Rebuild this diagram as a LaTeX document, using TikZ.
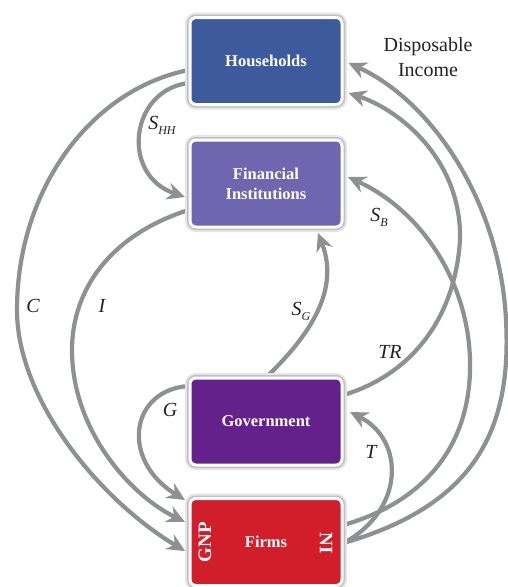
\documentclass[tikz,border=0pt]{standalone}
\usepackage{fontspec}
\setmainfont{Liberation Serif}
\usetikzlibrary{arrows.meta,calc,backgrounds}
\definecolor{hhc}{HTML}{3D5A9D}
\definecolor{fic}{HTML}{6E66AE}
\definecolor{govc}{HTML}{65218B}
\definecolor{firmc}{HTML}{D21E2B}
\definecolor{arrowgray}{HTML}{8D9194}
\definecolor{labc}{HTML}{222222}
\newcommand{\lsub}[1]{\raisebox{-5pt}{\fontsize{12}{12}\selectfont\itshape #1}}
\begin{document}
\begin{tikzpicture}[x=1pt,y=-1pt,
  box/.style={rounded corners=6pt, draw=white, line width=3pt, minimum width=152pt, minimum height=87pt,
    inner sep=0pt, text=white, font=\fontsize{16.5}{20}\selectfont\bfseries, align=center,
    preaction={draw=black!10, line width=10pt}, preaction={draw=black!25, line width=6pt}},
  flow/.style={draw=arrowgray, line width=4.2pt, -{Stealth[length=18pt,width=17pt,inset=6pt]}},
  lab/.style={font=\fontsize{20}{20}\selectfont\itshape, text=labc, inner sep=0pt},
  side/.style={text=white, font=\fontsize{19}{19}\selectfont\bfseries, inner sep=0pt}]
\useasboundingbox (0,0) rectangle (507,587);
% boxes
\node[box, fill=hhc] (hh) at (266,61) {Households};
\node[box, fill=fic] (fi) at (266,183.5) {Financial\\Institutions};
\node[box, fill=govc] (gov) at (266,421.5) {Government};
\node[box, fill=firmc] (firms) at (266,542) {Firms};
\node[side, rotate=90] (gnp) at (205,542) {GNP};
\node[side, rotate=-90] (ni) at (326,543) {NI};
% connectors
\begin{scope}[on background layer]
\fill[white] (0,0) rectangle (507,587);
% S_HH
\draw[flow] ($(hh.west)+(0,22)$) .. controls (130,90) and (120,175) .. ($(fi.west)+(-3.5,13.5)$);
% C
\draw[flow] ($(hh.west)+(0,9)$) .. controls (90,90) and (17,190) .. (17,310)
   .. controls (17,400) and (100,500) .. ($(firms.west)+(-3.5,9)$);
% I
\draw[flow] ($(fi.west)+(0,26.5)$) .. controls (110,235) and (72,290) .. (72,350)
   .. controls (72,430) and (130,495) .. ($(firms.west)+(-3.5,-20)$);
% G
\draw[flow] ($(gov.west)+(0,-35.5)$) .. controls (130,390) and (120,460) .. ($(firms.west)+(-3.5,-42)$);
% S_G
\draw[flow] ($(gov.north)+(1,0)$) .. controls (310,335) and (340,290) .. ($(fi.south)+(52,4.5)$);
% TR
\draw[flow] ($(gov.east)+(0,-26.5)$) .. controls (410,375) and (455,320) .. (460,240)
   .. controls (462,160) and (400,110) .. ($(hh.east)+(5,32)$);
% S_B
\draw[flow] ($(firms.east)+(0,-17)$) .. controls (430,500) and (472,440) .. (470,360)
   .. controls (468,280) and (420,210) .. ($(fi.east)+(4.5,-6.5)$);
% Disposable income (outer)
\draw[flow] ($(firms.east)+(0,1)$) .. controls (475,505) and (512,430) .. (506,320)
   .. controls (500,200) and (430,100) .. ($(hh.east)+(5,2)$);
% T
\draw[flow] ($(firms.east)+(0,1)$) .. controls (405,510) and (405,440) .. ($(gov.east)+(6.5,-9.5)$);
\end{scope}
% labels
\node[lab] (lC) at (33,306) {C};
\node[lab] (lI) at (102,306) {I};
\node[lab] (lShh) at (162,125) {S\lsub{HH}};
\node[lab] (lSb) at (379,217) {S\lsub{B}};
\node[lab] (lSg) at (301,311) {S\lsub{G}};
\node[lab] (lTR) at (390,352) {TR};
\node[lab] (lG) at (170,410) {G};
\node[lab] (lT) at (371,452) {T};
\node[font=\fontsize{20}{25}\selectfont, text=labc, align=center, inner sep=0pt] (di) at (428,57) {Disposable\\Income};
\end{tikzpicture}
\end{document}
